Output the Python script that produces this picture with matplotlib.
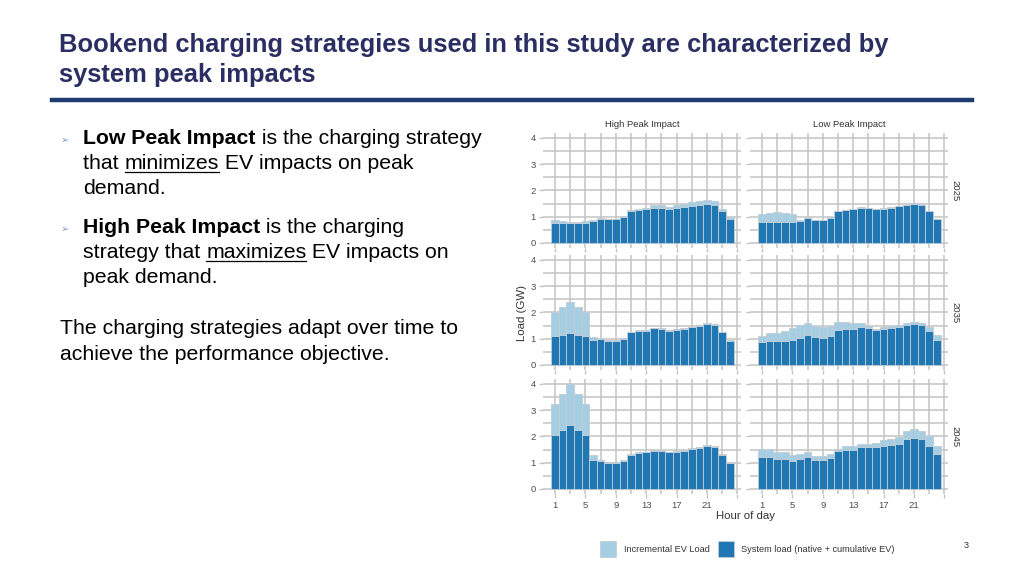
import matplotlib
matplotlib.use('Agg')
import matplotlib.pyplot as plt
import numpy as np

plt.rcParams['font.family'] = ['Liberation Sans', 'DejaVu Sans']

hours = list(range(1, 25))
strategies = ['High Peak Impact', 'Low Peak Impact']
years = ['2025', '2035', '2045']

# system load (native + cumulative EV), GW
sys_high_2025 = [0.78, 0.78, 0.77, 0.77, 0.78, 0.84, 0.93, 0.90, 0.90, 0.98, 1.20, 1.25,
                 1.28, 1.35, 1.35, 1.30, 1.35, 1.38, 1.42, 1.45, 1.50, 1.45, 1.20, 0.92]
sys_low_2025 = [0.80, 0.80, 0.80, 0.80, 0.80, 0.85, 0.95, 0.88, 0.88, 0.97, 1.20, 1.26,
                1.29, 1.35, 1.34, 1.29, 1.31, 1.35, 1.40, 1.45, 1.50, 1.46, 1.20, 0.91]
sys_high_2035 = [1.10, 1.15, 1.20, 1.15, 1.10, 0.95, 0.98, 0.93, 0.93, 1.00, 1.25, 1.30,
                 1.31, 1.39, 1.38, 1.31, 1.34, 1.38, 1.44, 1.49, 1.56, 1.53, 1.25, 0.93]
sys_low_2035 = [0.89, 0.90, 0.90, 0.93, 0.95, 1.03, 1.14, 1.06, 1.04, 1.11, 1.33, 1.36,
                1.36, 1.44, 1.40, 1.34, 1.36, 1.40, 1.46, 1.51, 1.56, 1.53, 1.28, 0.96]
sys_high_2045 = [2.04, 2.23, 2.42, 2.23, 2.04, 1.11, 1.07, 1.00, 1.00, 1.08, 1.31, 1.37,
                 1.40, 1.45, 1.45, 1.39, 1.41, 1.45, 1.51, 1.56, 1.63, 1.59, 1.30, 0.97]
sys_low_2045 = [1.23, 1.20, 1.14, 1.14, 1.08, 1.15, 1.21, 1.11, 1.11, 1.19, 1.43, 1.48,
                1.50, 1.58, 1.58, 1.58, 1.64, 1.68, 1.73, 1.89, 1.95, 1.92, 1.64, 1.34]

# incremental EV load, GW
ev_high_2025 = [0.08, 0.05, 0.04, 0.04, 0.04, 0.04, 0.03, 0.03, 0.03, 0.03, 0.06, 0.06,
                0.07, 0.09, 0.09, 0.09, 0.10, 0.12, 0.13, 0.14, 0.15, 0.14, 0.10, 0.08]
ev_low_2025 = [0.32, 0.35, 0.38, 0.35, 0.32, 0.01, 0.01, 0.01, 0.01, 0.01, 0.01, 0.01,
               0.01, 0.01, 0.01, 0.01, 0.01, 0.01, 0.01, 0.01, 0.01, 0.01, 0.01, 0.01]
ev_high_2035 = [0.90, 1.05, 1.20, 1.05, 0.90, 0.10, 0.02, 0.02, 0.02, 0.02, 0.02, 0.02,
                0.02, 0.02, 0.02, 0.02, 0.02, 0.02, 0.02, 0.02, 0.02, 0.02, 0.02, 0.02]
ev_low_2035 = [0.20, 0.30, 0.31, 0.38, 0.45, 0.48, 0.47, 0.44, 0.40, 0.38, 0.32, 0.27,
               0.22, 0.16, 0.10, 0.04, 0.07, 0.08, 0.07, 0.08, 0.09, 0.08, 0.17, 0.18]
ev_high_2045 = [1.21, 1.40, 1.58, 1.40, 1.21, 0.18, 0.04, 0.01, 0.01, 0.03, 0.03, 0.03,
                0.02, 0.04, 0.03, 0.02, 0.03, 0.04, 0.04, 0.05, 0.05, 0.04, 0.04, 0.04]
ev_low_2045 = [0.31, 0.31, 0.25, 0.25, 0.21, 0.19, 0.18, 0.14, 0.14, 0.13, 0.11, 0.15,
               0.13, 0.13, 0.12, 0.16, 0.21, 0.21, 0.25, 0.33, 0.32, 0.30, 0.36, 0.30]

system = [[sys_high_2025, sys_low_2025],
          [sys_high_2035, sys_low_2035],
          [sys_high_2045, sys_low_2045]]
incremental = [[ev_high_2025, ev_low_2025],
               [ev_high_2035, ev_low_2035],
               [ev_high_2045, ev_low_2045]]

DARK = '#1f78b4'
LIGHT = '#a6cee3'
GRID = '#c4c4c4'
NAVY = '#2b2e62'
EDGE = '#c2ccd5'

fig = plt.figure(figsize=(10.24, 5.76), dpi=100)
fig.patch.set_facecolor('white')
renderer = fig.canvas.get_renderer()
W, H = 1024.0, 576.0


def fx(px):
    return px / W


def fy(py):
    return 1 - py / H


# title and rule
fig.text(fx(59), fy(45), 'Bookend charging strategies used in this study are characterized by',
         fontsize=18.4, weight='bold', color=NAVY, va='center')
fig.text(fx(59), fy(75), 'system peak impacts',
         fontsize=18.4, weight='bold', color=NAVY, va='center')
fig.add_artist(plt.Line2D([fx(52), fx(972)], [fy(100), fy(100)], color='#1d3b70', lw=3.2))

BODY = 15.3


def text_width(s, **kw):
    t = fig.text(0, 0, s + 'x', **kw)
    w1 = t.get_window_extent(renderer).width
    t.remove()
    t = fig.text(0, 0, 'x', **kw)
    w2 = t.get_window_extent(renderer).width
    t.remove()
    return w1 - w2


def draw_runs(x0, ybase, runs):
    x = x0
    for s, bold, under in runs:
        kw = dict(fontsize=BODY, weight='bold' if bold else 'normal')
        fig.text(fx(x), fy(ybase), s, va='baseline', color='black', **kw)
        w = text_width(s, **kw)
        if under:
            fig.add_artist(plt.Line2D([fx(x), fx(x + w)], [fy(ybase + 2.5), fy(ybase + 2.5)],
                                      color='black', lw=0.9))
        x += w


for yb in [144, 233]:
    fig.text(fx(61), fy(yb - 1), '\u27a2', fontsize=7, color='#7c9cc0', va='baseline',
             family=['DejaVu Sans'])

draw_runs(83, 144, [('Low Peak Impact', True, False), (' is the charging strategy', False, False)])
draw_runs(83, 169, [('that ', False, False), ('minimizes', False, True),
                    (' EV impacts on peak', False, False)])
draw_runs(83, 194, [('demand.', False, False)])
draw_runs(83, 233, [('High Peak Impact', True, False), (' is the charging', False, False)])
draw_runs(83, 258, [('strategy that ', False, False), ('maximizes', False, True),
                    (' EV impacts on', False, False)])
draw_runs(83, 283, [('peak demand.', False, False)])
draw_runs(60, 334, [('The charging strategies adapt over time to', False, False)])
draw_runs(60, 360, [('achieve the performance objective.', False, False)])

# facet panels
col_left = [542.8, 749.8]
panel_w = 198.4
row_top = [132.75, 254.7, 378.7]
panel_h = 115.5

for r in range(3):
    for c in range(2):
        ax = fig.add_axes([fx(col_left[c]), fy(row_top[r] + panel_h), panel_w / W, panel_h / H])
        ax.bar(hours, system[r][c], width=1.0, color=DARK, edgecolor=EDGE, linewidth=0.6,
               zorder=3)
        ax.bar(hours, incremental[r][c], bottom=system[r][c], width=1.0, color=LIGHT,
               edgecolor=EDGE, linewidth=0.6, zorder=3)
        ax.set_xlim(-0.6, 25.5)
        ax.set_ylim(-0.2, 4.2)
        ax.set_facecolor('white')
        for sp in ax.spines.values():
            sp.set_visible(False)
        ax.set_xticks([1, 5, 9, 13, 17, 21, 25])
        ax.set_xticks([3, 7, 11, 15, 19, 23], minor=True)
        ax.set_yticks([0, 1, 2, 3, 4])
        ax.set_yticks([0.5, 1.5, 2.5, 3.5], minor=True)
        ax.grid(True, which='both', color=GRID, lw=1.1, zorder=0)
        ax.set_axisbelow(True)
        ax.tick_params(which='both', length=3, width=1, color=GRID, labelsize=6.8,
                       labelcolor='#4d4d4d', pad=2)
        ax.tick_params(which='minor', length=0)
        if c == 0:
            ax.set_yticklabels(['0', '1', '2', '3', '4'])
        else:
            ax.set_yticklabels([])
        if r == 2:
            ax.set_xticklabels(['1', '5', '9', '13', '17', '21', ''])
        else:
            ax.set_xticklabels([])
        if r == 0:
            ax.set_title(strategies[c], fontsize=6.8, color='#333333', pad=4)
        if c == 1:
            ax.text(1.035, 0.5, years[r], transform=ax.transAxes, rotation=-90,
                    fontsize=6.8, color='#333333', va='center', ha='center')

fig.text(fx(522), fy(313), 'Load (GW)', rotation=90, fontsize=8.2, color='#333333',
         va='center', ha='center')
fig.text(fx(745), fy(516), 'Hour of day', fontsize=8.2, color='#333333',
         va='center', ha='center')

# legend
fig.add_artist(plt.Rectangle((fx(600), fy(557)), 16 / W, 16 / H, facecolor=LIGHT,
                             edgecolor=EDGE, lw=0.6))
fig.text(fx(624), fy(549), 'Incremental EV Load', fontsize=6.6, color='#333333', va='center')
fig.add_artist(plt.Rectangle((fx(718), fy(557)), 16 / W, 16 / H, facecolor=DARK,
                             edgecolor=EDGE, lw=0.6))
fig.text(fx(741), fy(549), 'System load (native + cumulative EV)', fontsize=6.6,
         color='#333333', va='center')

fig.text(fx(966), fy(545), '3', fontsize=6.5, color='#333333', va='center', ha='center')

fig.savefig('out.png', dpi=100)
